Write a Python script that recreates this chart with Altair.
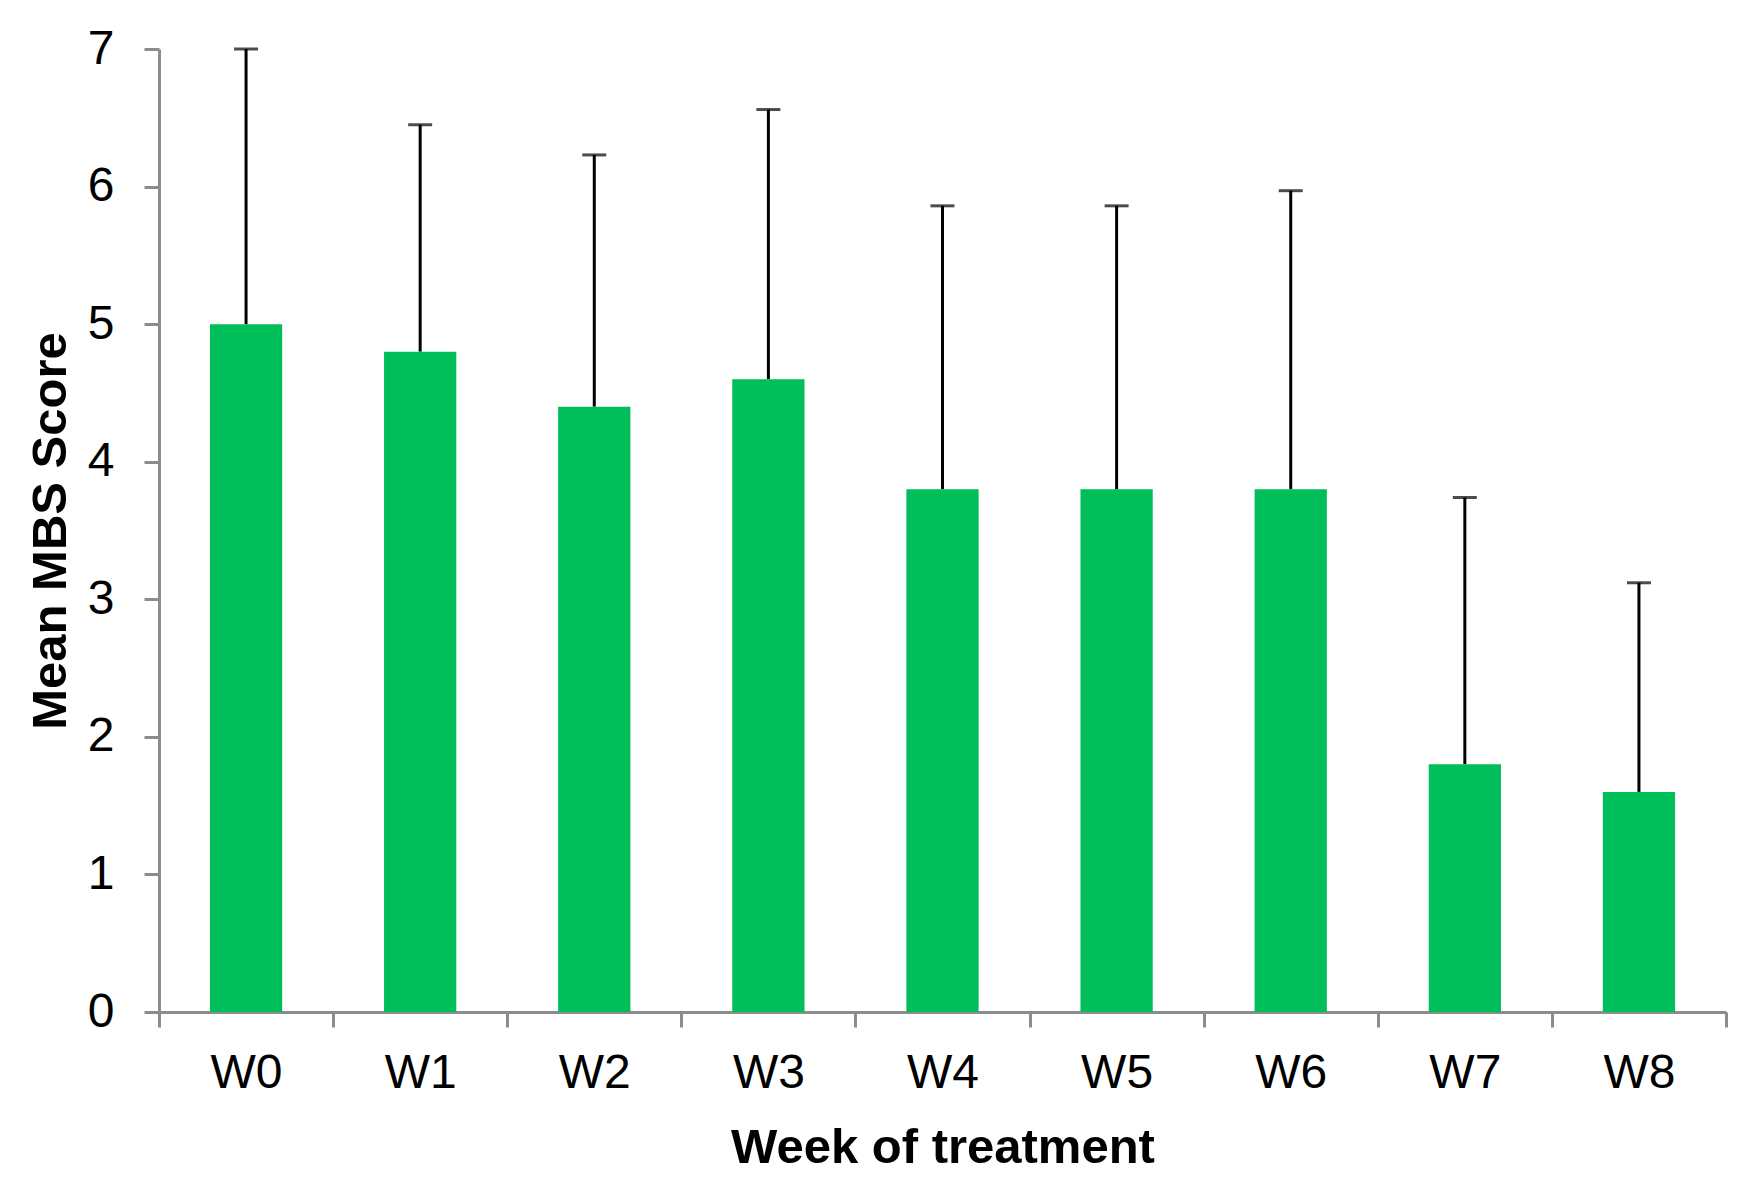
import altair as alt
import pandas as pd

weeks = ["W0", "W1", "W2", "W3", "W4", "W5", "W6", "W7", "W8"]
means = [5.0, 4.8, 4.4, 4.6, 3.8, 3.8, 3.8, 1.8, 1.6]
sds = [2.0, 1.65, 1.83, 1.96, 2.06, 2.06, 2.17, 1.94, 1.52]

df = pd.DataFrame({"week": weeks, "mean": means, "sd": sds})
df["upper"] = df["mean"] + df["sd"]

FONT = "Liberation Sans"
GRAY = "#8c8c8c"

x_scale = alt.Scale(paddingInner=0, paddingOuter=0)

x_enc = alt.X(
    "week:N",
    sort=weeks,
    scale=x_scale,
    axis=alt.Axis(
        title="Week of treatment",
        labelAngle=0,
        labelFont=FONT,
        labelFontSize=48,
        labelColor="black",
        labelPadding=60,
        labelOffset=36,
        labelBaseline="alphabetic",
        titleFont=FONT,
        titleFontSize=49,
        titleFontWeight="bold",
        titleColor="black",
        titleX=783.5,
        titleY=150,
        titleBaseline="alphabetic",
        titleAlign="center",
        tickBand="extent",
        tickSize=15,
        tickWidth=3,
        tickColor=GRAY,
        domainColor=GRAY,
        domainWidth=3,
    ),
)

y_scale = alt.Scale(domain=[0, 7], nice=False)
y_axis = alt.Axis(
    title="Mean MBS Score",
    values=[0, 1, 2, 3, 4, 5, 6, 7],
    format="d",
    grid=False,
    labelFont=FONT,
    labelFontSize=48,
    labelColor="black",
    labelPadding=30,
    labelBaseline="middle",
    titleFont=FONT,
    titleFontSize=49,
    titleFontWeight="bold",
    titleColor="black",
    titleX=-109,
    titleY=481.5,
    titleAngle=270,
    titleAlign="center",
    titleBaseline="middle",
    tickSize=15,
    tickWidth=3,
    tickColor=GRAY,
    domainColor=GRAY,
    domainWidth=3,
)

base = alt.Chart(df)

bars = base.mark_bar(color="#00BE5A", width=alt.RelativeBandSize(0.415)).encode(
    x=x_enc,
    y=alt.Y("mean:Q", scale=y_scale, axis=y_axis),
)

rules = base.mark_rule(color="black", strokeWidth=3).encode(
    x=alt.X("week:N", sort=weeks, scale=x_scale),
    y="mean:Q",
    y2="upper:Q",
)

caps = base.mark_tick(color="black", thickness=3, size=24, orient="horizontal").encode(
    x=alt.X("week:N", sort=weeks, scale=x_scale),
    y="upper:Q",
)

chart = (
    alt.layer(rules, bars, caps)
    .properties(
        width=1567,
        height=963,
        autosize=alt.AutoSizeParams(type="none"),
        padding={"left": 151, "top": 41, "right": 20, "bottom": 160},
    )
    .configure(background="white", view=alt.ViewConfig(stroke="transparent", strokeWidth=0))
)

chart.save("out.html", embed_options={"renderer": "svg", "actions": False})
